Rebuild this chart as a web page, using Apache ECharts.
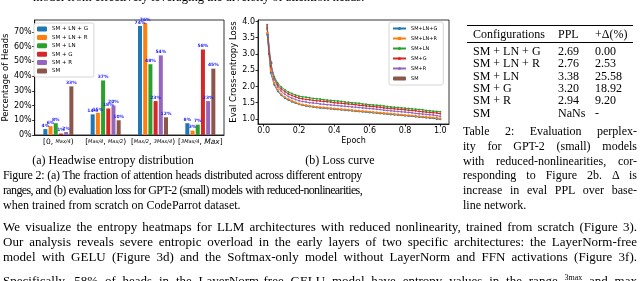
<!DOCTYPE html>
<html>
<head>
<meta charset="utf-8">
<script src="https://cdn.jsdelivr.net/npm/echarts@6/dist/echarts.min.js"></script>
<style>
html,body{margin:0;padding:0;background:#fff;width:640px;height:281px;overflow:hidden;}
#chart{position:absolute;left:0;top:0;width:640px;height:281px;}
.t{position:absolute;font-family:"Liberation Serif","Times New Roman",serif;font-size:12.5px;line-height:15px;color:#000;white-space:nowrap;}
.tb{font-size:12px;}
.j{text-align:justify;text-align-last:justify;white-space:normal;}
.rule{position:absolute;background:#000;}
</style>
</head>
<body>
<div id="chart"></div>
<div id="texts"></div>
<script>
// ---------- data ----------
const binLabels = ['[0, Max/4)', '[Max/4, Max/2)', '[Max/2, 3Max/4)', '[3Max/4, Max]'];
const configNames = ['SM + LN + G', 'SM + LN + R', 'SM + LN', 'SM + G', 'SM + R', 'SM'];
const pctSMLNG = [4, 14, 74, 8];
const pctSMLNR = [6, 15, 76, 3];
const pctSMLN  = [8, 37, 48, 7];
const pctSMG   = [1, 18, 23, 58];
const pctSMR   = [2, 20, 54, 23];
const pctSM    = [33, 10, 12, 45];

const lossNames = ['SM+LN+G', 'SM+LN+R', 'SM+LN', 'SM+G', 'SM+R', 'SM'];
const epochs = [0.02,0.04,0.06,0.08,0.10,0.12,0.14,0.16,0.18,0.20,0.22,0.24,0.26,0.28,0.30,0.32,0.34,0.36,0.38,0.40,
                0.42,0.44,0.46,0.48,0.50,0.52,0.54,0.56,0.58,0.60,0.62,0.64,0.66,0.68,0.70,0.72,0.74,0.76,0.78,0.80,
                0.82,0.84,0.86,0.88,0.90,0.92,0.94,0.96,0.98,1.00];
const lossSMLNG = [3.60,2.42,2.05,1.85,1.73,1.64,1.58,1.53,1.49,1.45,1.42,1.40,1.38,1.37,1.35,1.34,1.33,1.32,1.31,1.30,
                   1.29,1.28,1.27,1.26,1.25,1.24,1.23,1.22,1.21,1.20,1.19,1.18,1.17,1.16,1.15,1.14,1.13,1.12,1.11,1.10,
                   1.09,1.08,1.07,1.06,1.05,1.04,1.03,1.02,1.00,0.99];
const lossSMLNR = [3.65,2.50,2.10,1.89,1.76,1.67,1.61,1.56,1.51,1.47,1.44,1.42,1.40,1.385,1.37,1.36,1.35,1.34,1.33,1.32,
                   1.31,1.30,1.29,1.28,1.27,1.26,1.25,1.24,1.23,1.22,1.21,1.20,1.19,1.18,1.17,1.16,1.15,1.14,1.13,1.12,
                   1.11,1.10,1.09,1.08,1.07,1.06,1.05,1.04,1.03,1.015];
const lossSMLN  = [3.75,2.68,2.30,2.10,1.98,1.90,1.83,1.78,1.74,1.70,1.68,1.67,1.65,1.63,1.62,1.61,1.59,1.58,1.57,1.56,
                   1.55,1.54,1.52,1.51,1.50,1.49,1.48,1.46,1.45,1.44,1.43,1.42,1.41,1.40,1.38,1.37,1.36,1.35,1.34,1.33,
                   1.32,1.31,1.30,1.29,1.28,1.26,1.25,1.24,1.23,1.22];
const lossSMG   = [3.80,2.62,2.24,2.04,1.92,1.84,1.77,1.72,1.68,1.64,1.62,1.60,1.59,1.57,1.56,1.55,1.54,1.53,1.52,1.50,
                   1.49,1.48,1.47,1.46,1.45,1.44,1.42,1.41,1.40,1.39,1.38,1.37,1.36,1.34,1.33,1.32,1.31,1.30,1.29,1.28,
                   1.27,1.26,1.25,1.23,1.22,1.21,1.20,1.19,1.18,1.16];
const lossSMR   = [3.85,2.75,2.22,1.98,1.85,1.76,1.69,1.64,1.60,1.56,1.54,1.52,1.50,1.49,1.48,1.46,1.45,1.44,1.43,1.42,
                   1.41,1.40,1.39,1.38,1.37,1.36,1.35,1.34,1.33,1.32,1.31,1.30,1.29,1.27,1.26,1.25,1.24,1.23,1.22,1.21,
                   1.20,1.19,1.17,1.16,1.15,1.14,1.13,1.12,1.10,1.08];
const smEpochs = [0.02, 0.03, 0.045];
const lossSM    = [3.90, 3.00, 2.72];

const pctTicks = [0, 10, 20, 30, 40, 50, 60, 70];
const epochTicks = [0.0, 0.2, 0.4, 0.6, 0.8, 1.0];
const lossTicks = [1.0, 1.5, 2.0, 2.5, 3.0, 3.5, 4.0];

const tableConfigs = ['SM + LN + G', 'SM + LN + R', 'SM + LN', 'SM + G', 'SM + R', 'SM'];
const tablePPL = ['2.69', '2.76', '3.38', '3.20', '2.94', 'NaNs'];
const tableDelta = ['0.00', '2.53', '25.58', '18.92', '9.20', '-'];

// ---------- chart ----------
const colors = ['#1f77b4', '#ff7f0e', '#2ca02c', '#d62728', '#9467bd', '#8c564b'];
const barSets = [pctSMLNG, pctSMLNR, pctSMLN, pctSMG, pctSMR, pctSM];
const lossSets = [lossSMLNG, lossSMLNR, lossSMLN, lossSMG, lossSMR];
const FONT = 'DejaVu Sans';

const series = [];
barSets.forEach((d, i) => {
  series.push({
    name: configNames[i], type: 'bar', xAxisIndex: 0, yAxisIndex: 0,
    data: d, barWidth: 4, barGap: '30%',
    itemStyle: { color: colors[i] },
    label: { show: true, position: 'top', distance: 1, formatter: '{c}%',
             fontSize: 4.5, fontWeight: 'bold', color: '#2222ff', fontFamily: FONT },
    emphasis: { disabled: true }, animation: false
  });
});
const symbols = ['circle', 'rect', 'circle', 'circle', 'circle', 'circle'];
lossSets.forEach((d, i) => {
  series.push({
    name: lossNames[i], type: 'line', xAxisIndex: 1, yAxisIndex: 1,
    data: epochs.map((e, k) => [e, d[k]]),
    symbol: symbols[i], symbolSize: 2, showSymbol: true,
    lineStyle: { width: 1, color: colors[i] }, itemStyle: { color: colors[i] },
    emphasis: { disabled: true }, animation: false
  });
});
series.push({
  name: lossNames[5], type: 'line', xAxisIndex: 1, yAxisIndex: 1,
  data: smEpochs.map((e, k) => [e, lossSM[k]]),
  symbol: 'circle', symbolSize: 2, showSymbol: true,
  lineStyle: { width: 1, color: colors[5] }, itemStyle: { color: colors[5] },
  emphasis: { disabled: true }, animation: false
});

function binFmt(v) {
  return v.replace(/(\d?Max\/\d)/g, '{f|$1}').replace(/(Max\])/, '{i|Max}]');
}

const option = {
  animation: false,
  textStyle: { fontFamily: FONT },
  grid: [
    { left: 32, top: 20, width: 192, height: 115, show: true, borderColor: '#000', borderWidth: 0.8, containLabel: false },
    { left: 258, top: 20, width: 191, height: 104, show: true, borderColor: '#000', borderWidth: 0.8, containLabel: false }
  ],
  xAxis: [
    { type: 'category', gridIndex: 0, data: binLabels,
      axisLine: { lineStyle: { color: '#000', width: 0.8 } },
      axisTick: { alignWithLabel: true, length: 2.5, lineStyle: { color: '#000', width: 0.8 } },
      axisLabel: { color: '#000', fontSize: 7.5, margin: 3, interval: 0, formatter: binFmt,
        rich: { f: { fontSize: 5, fontStyle: 'italic', color: '#000' }, i: { fontSize: 7.5, fontStyle: 'italic', color: '#000' } } } },
    { type: 'value', gridIndex: 1, min: -0.032, max: 1.049,
      axisLine: { onZero: false, lineStyle: { color: '#000', width: 0.8 } },
      axisTick: { length: 2.5, customValues: epochTicks, lineStyle: { color: '#000', width: 0.8 } },
      axisLabel: { color: '#000', fontSize: 8, margin: 3, customValues: epochTicks, formatter: v => v.toFixed(1) },
      splitLine: { show: false },
      name: 'Epoch', nameLocation: 'middle', nameGap: 13, nameTextStyle: { color: '#000', fontSize: 8 } }
  ],
  yAxis: [
    { type: 'value', gridIndex: 0, min: 0, max: 78, interval: 10,
      axisLine: { show: true, lineStyle: { color: '#000', width: 0.8 } },
      axisTick: { show: true, length: 2.5, customValues: pctTicks, lineStyle: { color: '#000', width: 0.8 } },
      axisLabel: { color: '#000', fontSize: 8, margin: 3, customValues: pctTicks, formatter: v => v + '%' },
      splitLine: { show: false },
      name: 'Percentage of Heads', nameLocation: 'middle', nameGap: 22, nameRotate: 90,
      nameTextStyle: { color: '#000', fontSize: 8.5 } },
    { type: 'value', gridIndex: 1, min: 0.844, max: 4.046,
      axisLine: { show: true, onZero: false, lineStyle: { color: '#000', width: 0.8 } },
      axisTick: { show: true, length: 2.5, customValues: lossTicks, lineStyle: { color: '#000', width: 0.8 } },
      axisLabel: { color: '#000', fontSize: 8, margin: 3, customValues: lossTicks, formatter: v => v.toFixed(1) },
      splitLine: { show: false },
      name: 'Eval Cross-entropy Loss', nameLocation: 'middle', nameGap: 19, nameRotate: 90,
      nameTextStyle: { color: '#000', fontSize: 8.5 } }
  ],
  legend: [
    { data: configNames, orient: 'vertical', left: 34, top: 23, itemWidth: 10, itemHeight: 5, itemGap: 2.4,
      padding: [3, 6, 3, 3], backgroundColor: '#fff', borderColor: '#ccc', borderWidth: 0.8, borderRadius: 2,
      textStyle: { fontSize: 5.5, color: '#000', fontFamily: FONT }, selectedMode: false },
    { data: lossNames, orient: 'vertical', left: 389, top: 22, itemWidth: 13, itemHeight: 4, itemGap: 5,
      padding: [4, 6, 4, 3], backgroundColor: '#fff', borderColor: '#ccc', borderWidth: 0.8, borderRadius: 2,
      textStyle: { fontSize: 5, color: '#000', fontFamily: FONT }, selectedMode: false }
  ],
  series: series
};
const chart = echarts.init(document.getElementById('chart'), null, { renderer: 'canvas' });
chart.setOption(option);

// ---------- page text ----------
const T = document.getElementById('texts');
function line(txt, x, yc, w, cls) {
  const d = document.createElement('div');
  d.className = 't' + (cls ? ' ' + cls : '');
  d.style.left = x + 'px'; d.style.top = (yc - 7.5) + 'px';
  if (w) d.style.width = w + 'px';
  d.innerHTML = txt; T.appendChild(d);
  return d;
}
// justified line: tighten letter spacing if too long, then justify to the width
function jline(txt, x, yc, w, fs) {
  const d = line('<span>' + txt + '</span>', x, yc);
  d.style.fontSize = (fs || 12) + 'px';
  const nat = d.firstChild.getBoundingClientRect().width;
  if (nat > w - 2) {
    const n = d.textContent.length;
    d.style.letterSpacing = (-(nat - w + 4) / n) + 'px';
  }
  d.classList.add('j');
  d.style.width = w + 'px';
  return d;
}
function center(txt, xc, yc) {
  const d = line(txt, xc - 150, yc, 300); d.style.textAlign = 'center'; d.style.fontSize = '12px';
}
line('model from effectively leveraging the diversity of attention heads.', 33, -3);
center('(a) Headwise entropy distribution', 113, 160);
center('(b) Loss curve', 340, 160);
jline('Figure 2: (a) The fraction of attention heads distributed across different entropy', 3, 175, 359);
jline('ranges, and (b) evaluation loss for GPT-2 (small) models with reduced-nonlinearities,', 3, 190, 359);
line('when trained from scratch on CodeParrot dataset.', 3, 205).style.fontSize = '12px';
jline('Table 2: Evaluation perplex-', 463, 131, 174);
jline('ity for GPT-2 (small) models', 463, 146, 174);
jline('with reduced-nonlinearities, cor-', 463, 161, 174);
jline('responding to Figure 2b. &Delta; is', 463, 175.5, 174);
jline('increase in eval PPL over base-', 463, 190, 174);
line('line network.', 463, 205).style.fontSize = '12px';
jline('We visualize the entropy heatmaps for LLM architectures with reduced nonlinearity, trained from scratch (Figure 3).', 3, 226, 634, 13);
jline('Our analysis reveals severe entropic overload in the early layers of two specific architectures: the LayerNorm-free', 3, 241, 634, 13);
jline('model with GELU (Figure 3d) and the Softmax-only model without LayerNorm and FFN activations (Figure 3f).', 3, 256, 634, 13);
jline('Specifically, 58% of heads in the LayerNorm-free GELU model have entropy values in the range <sup style="font-size:8px">3max</sup> and max', 3, 277, 634, 13);

// table
function rule(x, y, w, h) { const r = document.createElement('div'); r.className = 'rule';
  r.style.left = x + 'px'; r.style.top = y + 'px'; r.style.width = w + 'px'; r.style.height = h + 'px'; T.appendChild(r); }
rule(467, 24.5, 166, 1);
rule(467, 41.5, 166, 0.7);
line('Configurations', 473, 34, 0, 'tb');
line('PPL', 558, 34, 0, 'tb');
line('+&Delta;(%)', 595, 34, 0, 'tb');
const rowY = [51.5, 63.8, 76.1, 88.4, 100.7, 113];
tableConfigs.forEach((c, i) => {
  line(c, 473, rowY[i], 0, 'tb');
  line(tablePPL[i], 558, rowY[i], 0, 'tb');
  line(tableDelta[i], 595, rowY[i], 0, 'tb');
});
</script>
</body>
</html>
